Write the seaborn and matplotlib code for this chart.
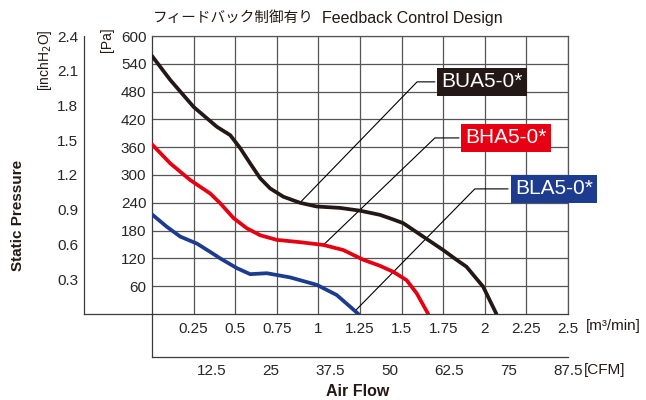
import numpy as np
import pandas as pd
import matplotlib
matplotlib.use("Agg")
import matplotlib.pyplot as plt
import seaborn as sns

# Datos (caudal en m3/min, presion en Pa)
bua_flow = [0.0, 0.11, 0.25, 0.39, 0.47, 0.53, 0.59, 0.65, 0.71, 0.79, 0.89, 0.99,
            1.13, 1.25, 1.37, 1.45, 1.51, 1.63, 1.75, 1.83, 1.89, 1.99, 2.07]
bua_pa = [557, 505, 447, 404, 386, 358, 325, 293, 271, 253, 240, 232,
          229, 223, 214, 204, 196, 167, 138, 117, 102, 59, 0]

bha_flow = [0.0, 0.11, 0.23, 0.35, 0.41, 0.49, 0.57, 0.65, 0.75, 0.89, 1.03, 1.15,
            1.27, 1.37, 1.45, 1.53, 1.59, 1.66]
bha_pa = [366, 325, 289, 260, 239, 207, 185, 170, 160, 155, 149, 138,
          117, 104, 91, 73, 45, 0]

bla_flow = [0.0, 0.09, 0.17, 0.27, 0.35, 0.41, 0.51, 0.59, 0.69, 0.83, 0.99, 1.11,
            1.19, 1.24]
bla_pa = [215, 188, 167, 152, 134, 120, 99, 86, 88, 79, 63, 41, 16, 0]

modelos = ["BUA5-0*", "BHA5-0*", "BLA5-0*"]
colores = ["#231815", "#e60012", "#1d3b8f"]

m3_ticks = [0.25, 0.5, 0.75, 1, 1.25, 1.5, 1.75, 2, 2.25, 2.5]
m3_labels = ["0.25", "0.5", "0.75", "1", "1.25", "1.5", "1.75", "2", "2.25", "2.5"]
cfm_ticks = [12.5, 25, 37.5, 50, 62.5, 75, 87.5]
cfm_labels = ["12.5", "25", "37.5", "50", "62.5", "75", "87.5"]
pa_ticks = [60, 120, 180, 240, 300, 360, 420, 480, 540, 600]
inch_ticks = [0.3, 0.6, 0.9, 1.2, 1.5, 1.8, 2.1, 2.4]

# posiciones de las etiquetas (punto en curva, codo, inicio caja)
etiqueta_x = [0.889, 1.03, 1.22]
codo_x = [1.593, 1.70, 1.94]
codo_y = [501, 380, 270]
caja_x = [1.70, 1.845, 2.14]

df = pd.concat([
    pd.DataFrame({"flow": bua_flow, "pa": bua_pa, "modelo": modelos[0]}),
    pd.DataFrame({"flow": bha_flow, "pa": bha_pa, "modelo": modelos[1]}),
    pd.DataFrame({"flow": bla_flow, "pa": bla_pa, "modelo": modelos[2]}),
])

sns.set_style("white")
plt.rcParams["font.family"] = ["Liberation Sans", "Noto Sans CJK JP", "DejaVu Sans"]

W, H = 646, 400
fig = plt.figure(figsize=(W / 100, H / 100), dpi=100)
L, R, T, B = 152 / W, 568 / W, 1 - 36 / H, 1 - 314 / H
gris = "#555555"
oscuro = "#3a3a3a"

ax = fig.add_axes([L, B, R - L, T - B])
sns.lineplot(data=df, x="flow", y="pa", hue="modelo", palette=colores,
             lw=2.7, ax=ax, legend=False, sort=False, zorder=3,
             solid_joinstyle="round", solid_capstyle="round")
ax.set_xlim(0, 2.5)
ax.set_ylim(0, 600)
ax.set_xticks(m3_ticks)
ax.set_xticklabels(m3_labels)
ax.set_yticks(pa_ticks)
ax.set_yticklabels([str(v) for v in pa_ticks])
ax.grid(True, color=gris, lw=0.9)
ax.set_xlabel("")
ax.set_ylabel("")
for s in ax.spines.values():
    s.set_color(gris)
    s.set_linewidth(0.9)
ax.spines["left"].set_color(oscuro)
ax.spines["bottom"].set_color(oscuro)
ax.tick_params(axis="x", length=0, pad=6, labelsize=11)
ax.tick_params(axis="y", direction="in", length=5, pad=4, labelsize=11, color=oscuro)

# lineas guia y cajas de modelo
curvas = [(bua_flow, bua_pa), (bha_flow, bha_pa), (bla_flow, bla_pa)]
for i, nombre in enumerate(modelos):
    fx, fy = curvas[i]
    y0 = np.interp(etiqueta_x[i], fx, fy)
    ax.plot([etiqueta_x[i], codo_x[i], caja_x[i]], [y0, codo_y[i], codo_y[i]],
            color="black", lw=0.8, zorder=2, clip_on=False)
    ax.text(caja_x[i] + 0.04, codo_y[i], nombre, ha="left", va="center",
            color="white", fontsize=15, zorder=5, clip_on=False,
            bbox=dict(boxstyle="square,pad=0.2", fc=colores[i], ec="none"))

# eje inchH2O
ax_in = fig.add_axes([84 / W, B, L - 84 / W, T - B])
ax_in.patch.set_visible(False)
ax_in.set_ylim(0, 2.4)
ax_in.set_xlim(0, 1)
ax_in.set_yticks(inch_ticks)
ax_in.set_yticklabels([f"{v:.1f}" for v in inch_ticks])
ax_in.set_xticks([])
ax_in.tick_params(axis="y", direction="in", length=9, pad=4, labelsize=11, color=oscuro)
for k in ["top", "right"]:
    ax_in.spines[k].set_visible(False)
for k in ["left", "bottom"]:
    ax_in.spines[k].set_color(oscuro)
    ax_in.spines[k].set_linewidth(0.9)

# eje CFM
cb = 1 - 357 / H
ax_cfm = fig.add_axes([L, cb, R - L, B - cb])
ax_cfm.patch.set_visible(False)
ax_cfm.set_xlim(0, 87.5)
ax_cfm.set_xticks(cfm_ticks)
ax_cfm.set_xticklabels(cfm_labels)
ax_cfm.set_yticks([])
ax_cfm.tick_params(axis="x", direction="in", length=8, pad=5, labelsize=11, color=oscuro)
for k in ["top", "right"]:
    ax_cfm.spines[k].set_visible(False)
for k in ["left", "bottom"]:
    ax_cfm.spines[k].set_color(oscuro)
    ax_cfm.spines[k].set_linewidth(0.9)

# textos
fig.text(153 / W, 1 - 18 / H, "フィードバック制御有り", fontsize=10.5,
         family=["Noto Sans CJK JP"], va="center", ha="left", color="#231815")
fig.text(322 / W, 1 - 18 / H, "Feedback Control Design", fontsize=11.5,
         va="center", ha="left", color="#231815")
fig.text(18 / W, 1 - 215 / H, "Static Pressure", rotation=90, fontsize=11,
         fontweight="bold", va="center", ha="center", color="#231815")
fig.text(45 / W, 1 - 60 / H, "[inchH$_2$O]", rotation=90, fontsize=10,
         va="center", ha="center", color="#231815")
fig.text(107 / W, 1 - 40 / H, "[Pa]", rotation=90, fontsize=10,
         va="center", ha="center", color="#231815")
fig.text(586 / W, 1 - 326 / H, "[m³/min]", fontsize=11,
         va="center", ha="left", color="#231815")
fig.text(584 / W, 1 - 370 / H, "[CFM]", fontsize=11,
         va="center", ha="left", color="#231815")
fig.text(358 / W, 1 - 391 / H, "Air Flow", fontsize=11.5, fontweight="bold",
         va="center", ha="center", color="#231815")

fig.savefig("out.png", dpi=100)
